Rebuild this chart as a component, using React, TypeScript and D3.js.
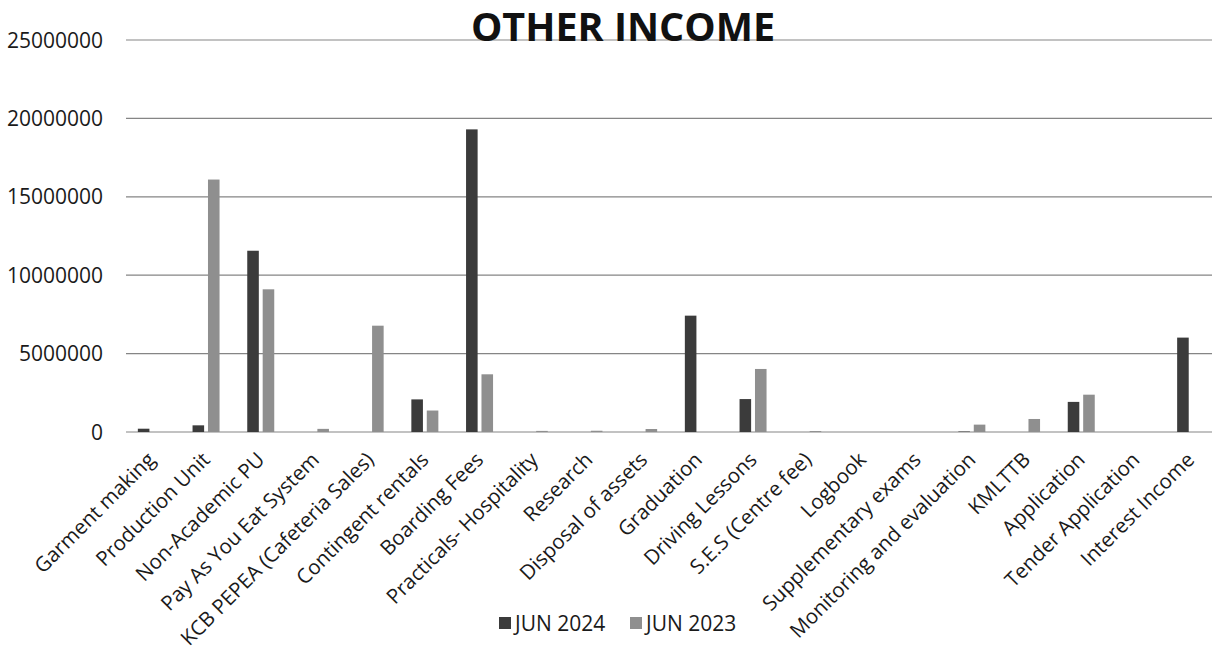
import React from "react";
import * as d3 from "d3";

const categories = [
  "Garment making",
  "Production Unit",
  "Non-Academic PU",
  "Pay As You Eat System",
  "KCB PEPEA (Cafeteria Sales)",
  "Contingent rentals",
  "Boarding Fees",
  "Practicals- Hospitality",
  "Research",
  "Disposal of assets",
  "Graduation",
  "Driving Lessons",
  "S.E.S (Centre fee)",
  "Logbook",
  "Supplementary exams",
  "Monitoring and evaluation",
  "KMLTTB",
  "Application",
  "Tender Application",
  "Interest Income",
];

const jun2024 = [210000, 425000, 11560000, 0, 0, 2080000, 19300000, 0, 0, 0, 7420000, 2100000, 0, 0, 0, 30000, 0, 1920000, 0, 6020000];
const jun2023 = [0, 16100000, 9100000, 200000, 6780000, 1370000, 3680000, 70000, 80000, 190000, 0, 4020000, 60000, 0, 0, 470000, 830000, 2380000, 0, 0];

const seriesNames = ["JUN 2024", "JUN 2023"];
const seriesColors = ["#3b3b3b", "#8f8f8f"];
const yTicks = [0, 5000000, 10000000, 15000000, 20000000, 25000000];
const title = "OTHER INCOME";

const W = 1212;
const H = 650;
const plot = { left: 124, right: 1218, top: 40, bottom: 432 };
const FONT = "'Open Sans', 'Noto Sans', sans-serif";

export default function App() {
  const x0 = d3.scaleBand<string>().domain(categories).range([plot.left, plot.right]).padding(0);
  const bw = x0.bandwidth();
  const groupW = 27;
  const x1 = d3
    .scaleBand<string>()
    .domain(seriesNames)
    .range([(bw - groupW) / 2, (bw + groupW) / 2])
    .paddingInner(0.25)
    .paddingOuter(0);
  const y = d3.scaleLinear().domain([0, 25000000]).range([plot.bottom, plot.top]);
  const seriesData = [jun2024, jun2023];
  const legendX = [499, 630];

  return (
    <svg width={W} height={H} style={{ position: "absolute", left: 0, top: 0, background: "#fff" }}>
      <rect x={0} y={0} width={W} height={H} fill="#fff" />
      {yTicks.map((t) => (
        <g key={t}>
          <line x1={plot.left + 2} x2={W} y1={y(t)} y2={y(t)} stroke="#858585" strokeWidth={1.2} />
          <text
            x={103}
            y={y(t)}
            dy="0.36em"
            textAnchor="end"
            fontFamily={FONT}
            fontSize={21}
            fill="#1a1a1a"
          >
            {t}
          </text>
        </g>
      ))}
      {categories.map((c, i) => (
        <g key={c} transform={`translate(${x0(c)},0)`}>
          {seriesNames.map((s, j) => {
            const v = seriesData[j][i];
            if (v <= 0) return null;
            return (
              <rect
                key={s}
                x={x1(s)}
                y={y(v)}
                width={x1.bandwidth()}
                height={y(0) - y(v)}
                fill={seriesColors[j]}
              />
            );
          })}
        </g>
      ))}
      {categories.map((c) => {
        const cx = (x0(c) as number) + bw / 2 + 5;
        return (
          <text
            key={"l" + c}
            transform={`translate(${cx},${461}) rotate(-45)`}
            textAnchor="end"
            fontFamily={FONT}
            fontSize={20.5}
            fill="#1a1a1a"
          >
            {c}
          </text>
        );
      })}
      <text
        x={623}
        y={41}
        textAnchor="middle"
        fontFamily={FONT}
        fontWeight={700}
        fontSize={39.5}
        fill="#111"
      >
        {title}
      </text>
      {seriesNames.map((s, j) => {
        const lx = legendX[j];
        return (
          <g key={"lg" + s}>
            <rect x={lx} y={617} width={12} height={12} fill={seriesColors[j]} />
            <text x={lx + 16} y={631} fontFamily={FONT} fontSize={21} fill="#1a1a1a">
              {s}
            </text>
          </g>
        );
      })}
    </svg>
  );
}
